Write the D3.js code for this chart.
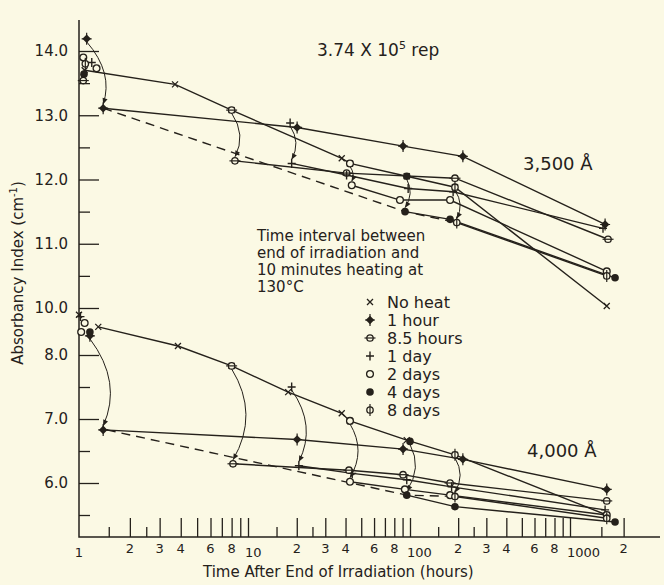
<!DOCTYPE html>
<html>
<head>
<meta charset="utf-8">
<script src="https://cdnjs.cloudflare.com/ajax/libs/d3/7.8.5/d3.min.js"></script>
<style>
body { margin: 0; background: #fbf9e4; }
svg { display: block; font-family: "DejaVu Sans", sans-serif; }
</style>
</head>
<body>
<svg width="664" height="585"></svg>
<script>
// ---- data (time in hours, absorbancy index) ----
var legendLabels = ["No heat", "1 hour", "8.5 hours", "1 day", "2 days", "4 days", "8 days"];
var legendKeys   = ["x", "diamond", "minus", "plus", "open", "dot", "phi"];

var xMajor = [2,3,4,5,6,7,8,9,10,20,30,40,50,60,70,80,90,100,200,300,400,500,600,700,800,900,1000,2000];
var xMinor = [1.5,2.5,15,25,150,250,1500];
var xLabelValues = [1,2,3,4,6,8,10,20,30,40,60,80,100,200,300,400,600,800,1000,2000];
var xLabelTexts  = ["1","2","3","4","6","8","10","2","3","4","6","8","100","2","3","4","6","8","1000","2"];

var yTopMajor = [14,13,12,11,10];
var yTopMinor = [13.5,12.5,11.5,10.5];
var yBotMajor = [8,7,6];
var yBotMinor = [7.5,6.5,5.5];

// 3,500 A
var a35_noHeat = [[1.08,13.70],[3.7,13.48],[8.0,13.08],[37.9,12.33],[42.6,12.25],[95.5,12.05],[191,11.88],[1608,10.03]];
var a35_h1_pre = [1.11,14.19];
var a35_h1     = [[1.39,13.11],[20.1,12.81],[90.6,12.52],[214,12.36],[1574,11.30]];
var a35_h85_pre = [8.0,13.08];
var a35_h85     = [[8.37,12.29],[40.6,12.10],[191,12.02],[1635,11.07]];
var a35_d1_pre = [18.2,12.88];
var a35_d1     = [[18.6,12.25],[40.6,12.07],[97.4,11.86],[186,11.81],[1532,11.24]];
var a35_d2_pre = [42.6,12.25];
var a35_d2     = [[43.7,11.91],[86.7,11.68],[178,11.68],[1608,10.57]];
var a35_d4_pre = [95.5,12.05];
var a35_d4     = [[93.2,11.50],[178,11.38],[1790,10.47]];
var a35_d8_pre = [191,11.88];
var a35_d8     = [[196,11.33],[1608,10.50]];
var a35_dashed = [[1.39,13.11],[93.2,11.50],[196,11.33]];
var a35_start  = [["open",1.06,13.90],["phi",1.09,13.80],["plus",1.19,13.82],["open",1.27,13.73],["dot",1.07,13.64],["minus",1.06,13.54]];

// 4,000 A
var a40_noHeat = [[1.3,8.44],[3.85,8.14],[8.0,7.83],[17.7,7.42],[37.9,7.09],[42.6,6.97],[95.5,6.67],[191,6.44],[1608,5.50]];
var a40_h1_pre = [1.16,8.30];
var a40_h1     = [[1.39,6.83],[20.1,6.68],[90.6,6.53],[214,6.37],[1608,5.90]];
var a40_h85_pre = [8.0,7.83];
var a40_h85     = [[8.15,6.30],[42,6.20],[90.6,6.13],[178,6.00],[1608,5.72]];
var a40_d1_pre = [18.6,7.50];
var a40_d1     = [[20.6,6.27],[44,6.15],[95.5,6.05],[182,5.94],[1574,5.58]];
var a40_d2_pre = [42.6,6.97];
var a40_d2     = [[42.6,6.02],[93,5.90],[178,5.81],[1608,5.50]];
var a40_d4_pre = [100,6.65];
var a40_d4     = [[95.5,5.81],[191,5.63],[1790,5.39]];
var a40_d8_pre = [191,6.44];
var a40_d8     = [[191,5.79],[1608,5.45]];
var a40_dashed = [[1.46,6.83],[95.5,5.81],[191,5.79]];
var a40_start  = [["x",1.0,8.63],["plus",1.02,8.60],["open",1.08,8.50],["open",1.03,8.36],["dot",1.16,8.36]];

var ink = "#25211b", paper = "#fbf9e4";

var svg = d3.select("svg");

var x = d3.scaleLog()
    .domain([1, 10, 100, 1000, 3000])
    .range([79, 248, 410, 570, 655]);

var yTop = d3.scaleLinear().domain([10, 14]).range([308, 51]);
var yBot = d3.scaleLinear().domain([5.5, 8]).range([515, 355]);

// ---- axes ----
function styleAxis(g) {
    g.select(".domain").remove();
    g.selectAll("line").attr("stroke", ink).attr("stroke-width", 1.3);
    g.selectAll("text").attr("fill", ink);
}

[[yTop, yTopMajor, yTopMinor], [yBot, yBotMajor, yBotMinor]].forEach(function(a) {
    svg.append("g")
        .attr("transform", "translate(79,0)")
        .call(d3.axisLeft(a[0]).tickValues(a[1]).tickSize(-20).tickPadding(11).tickFormat(d3.format(".1f")))
        .call(styleAxis)
        .attr("font-family", null)
        .attr("font-size", "15px");
    svg.append("g")
        .attr("transform", "translate(79,0)")
        .call(d3.axisLeft(a[0]).tickValues(a[2]).tickSize(-11).tickFormat(""))
        .call(styleAxis);
});

svg.append("g")
    .attr("transform", "translate(0,537)")
    .call(d3.axisBottom(x).tickValues(xMajor).tickSize(-19).tickFormat(""))
    .call(styleAxis);
svg.append("g")
    .attr("transform", "translate(0,537)")
    .call(d3.axisBottom(x).tickValues(xMinor).tickSize(-10).tickFormat(""))
    .call(styleAxis);

var xl = svg.append("g");
xLabelValues.forEach(function(v, i) {
    var t = xLabelTexts[i];
    xl.append("text")
        .attr("x", t.length > 1 ? x(v) - 3 : x(v))
        .attr("y", t.length > 1 || v === 1 ? 557 : 553)
        .attr("text-anchor", t.length > 1 ? "start" : "middle")
        .attr("font-size", "13px")
        .attr("fill", ink)
        .text(t);
});

svg.append("path")
    .attr("d", "M79,20V537H660")
    .attr("fill", "none")
    .attr("stroke", ink)
    .attr("stroke-width", 1.5);

// ---- symbols ----
function symbol(g, type, px, py) {
    var s = g.append("g").attr("transform", "translate(" + px + "," + py + ")");
    if (type === "x") {
        s.append("path").attr("d", "M-3,-3L3,3M-3,3L3,-3").attr("stroke", ink).attr("stroke-width", 1.3);
    } else if (type === "diamond") {
        s.append("path").attr("d", "M0,-6V6M-5,0H5").attr("stroke", ink).attr("stroke-width", 1.2);
        s.append("path").attr("d", "M0,-4.3L4.3,0L0,4.3L-4.3,0Z").attr("fill", ink);
    } else if (type === "minus") {
        s.append("circle").attr("r", 3.2).attr("fill", paper).attr("stroke", ink).attr("stroke-width", 1.3);
        s.append("path").attr("d", "M-5.5,0H5.5").attr("stroke", ink).attr("stroke-width", 1.2);
    } else if (type === "plus") {
        s.append("path").attr("d", "M0,-4.5V4.5M-4,0H4").attr("stroke", ink).attr("stroke-width", 1.4);
    } else if (type === "open") {
        s.append("circle").attr("r", 3.4).attr("fill", paper).attr("stroke", ink).attr("stroke-width", 1.3);
    } else if (type === "dot") {
        s.append("circle").attr("r", 3.8).attr("fill", ink);
    } else if (type === "phi") {
        s.append("circle").attr("r", 3.2).attr("fill", paper).attr("stroke", ink).attr("stroke-width", 1.3);
        s.append("path").attr("d", "M0,-6V6").attr("stroke", ink).attr("stroke-width", 1.2);
    }
}

// ---- plot one wavelength ----
function plotSet(y, sets, dashed, start) {
    var g = svg.append("g");
    var line = d3.line()
        .x(function(d) { return x(d[0]); })
        .y(function(d) { return y(d[1]); });

    g.append("path")
        .datum(dashed)
        .attr("d", line)
        .attr("fill", "none")
        .attr("stroke", ink)
        .attr("stroke-width", 1.4)
        .attr("stroke-dasharray", "9,6");

    sets.forEach(function(s) {
        g.append("path")
            .datum(s.line)
            .attr("d", line)
            .attr("fill", "none")
            .attr("stroke", ink)
            .attr("stroke-width", 1.4);
    });

    // heating arrows, curved from the pre-heat point down to the post-heat point
    sets.forEach(function(s) {
        if (!s.pre) return;
        var x0 = x(s.pre[0]), y0 = y(s.pre[1]) + 3,
            x1 = x(s.line[0][0]), y1 = y(s.line[0][1]) - 4;
        var cx = (x0 + x1) / 2 + 0.3 * (y1 - y0), cy = (y0 + y1) / 2;
        g.append("path")
            .attr("d", "M" + x0 + "," + y0 + "Q" + cx + "," + cy + " " + x1 + "," + y1)
            .attr("fill", "none")
            .attr("stroke", ink)
            .attr("stroke-width", 1);
        var ang = Math.atan2(y1 - cy, x1 - cx) * 180 / Math.PI;
        g.append("path")
            .attr("d", "M0,0L-6,-2.6L-6,2.6Z")
            .attr("transform", "translate(" + x1 + "," + y1 + ") rotate(" + ang + ")")
            .attr("fill", ink);
    });

    sets.forEach(function(s) {
        s.line.forEach(function(d) { symbol(g, s.key, x(d[0]), y(d[1])); });
    });
    sets.forEach(function(s) {
        if (s.pre) symbol(g, s.key, x(s.pre[0]), y(s.pre[1]));
    });
    start.forEach(function(d) { symbol(g, d[0], x(d[1]), y(d[2])); });
}

plotSet(yTop, [
    {key: "x", line: a35_noHeat},
    {key: "diamond", pre: a35_h1_pre, line: a35_h1},
    {key: "minus", pre: a35_h85_pre, line: a35_h85},
    {key: "plus", pre: a35_d1_pre, line: a35_d1},
    {key: "open", pre: a35_d2_pre, line: a35_d2},
    {key: "dot", pre: a35_d4_pre, line: a35_d4},
    {key: "phi", pre: a35_d8_pre, line: a35_d8}
], a35_dashed, a35_start);

plotSet(yBot, [
    {key: "x", line: a40_noHeat},
    {key: "diamond", pre: a40_h1_pre, line: a40_h1},
    {key: "minus", pre: a40_h85_pre, line: a40_h85},
    {key: "plus", pre: a40_d1_pre, line: a40_d1},
    {key: "open", pre: a40_d2_pre, line: a40_d2},
    {key: "dot", pre: a40_d4_pre, line: a40_d4},
    {key: "phi", pre: a40_d8_pre, line: a40_d8}
], a40_dashed, a40_start);

// ---- texts ----
var dose = svg.append("text").attr("x", 317).attr("y", 56).attr("font-size", "17px").attr("fill", ink);
dose.append("tspan").text("3.74 X 10");
dose.append("tspan").attr("dy", -7).attr("font-size", "11px").text("5");
dose.append("tspan").attr("dy", 7).text(" rep");

svg.append("text").attr("x", 523).attr("y", 170).attr("font-size", "18px").attr("fill", ink).text("3,500 Å");
svg.append("text").attr("x", 527).attr("y", 457).attr("font-size", "18px").attr("fill", ink).text("4,000 Å");

var note = ["Time interval between", "end of irradiation and", "10 minutes heating at", "130°C"];
note.forEach(function(t, i) {
    svg.append("text").attr("x", 257).attr("y", 241 + i * 17)
        .attr("font-size", "15px").attr("fill", ink).text(t);
});

legendLabels.forEach(function(t, i) {
    var cy = 302 + i * 18;
    symbol(svg, legendKeys[i], 370, cy);
    svg.append("text").attr("x", 387).attr("y", cy + 5.5)
        .attr("font-size", "16px").attr("fill", ink).text(t);
});

var yt = svg.append("text")
    .attr("transform", "translate(23,273) rotate(-90)")
    .attr("text-anchor", "middle")
    .attr("font-size", "15px")
    .attr("fill", ink);
yt.append("tspan").text("Absorbancy Index (cm");
yt.append("tspan").attr("dy", -6).attr("font-size", "10px").text("-1");
yt.append("tspan").attr("dy", 6).text(")");

svg.append("text").attr("x", 203).attr("y", 577)
    .attr("font-size", "15px").attr("fill", ink)
    .text("Time After End of Irradiation (hours)");
</script>
</body>
</html>
